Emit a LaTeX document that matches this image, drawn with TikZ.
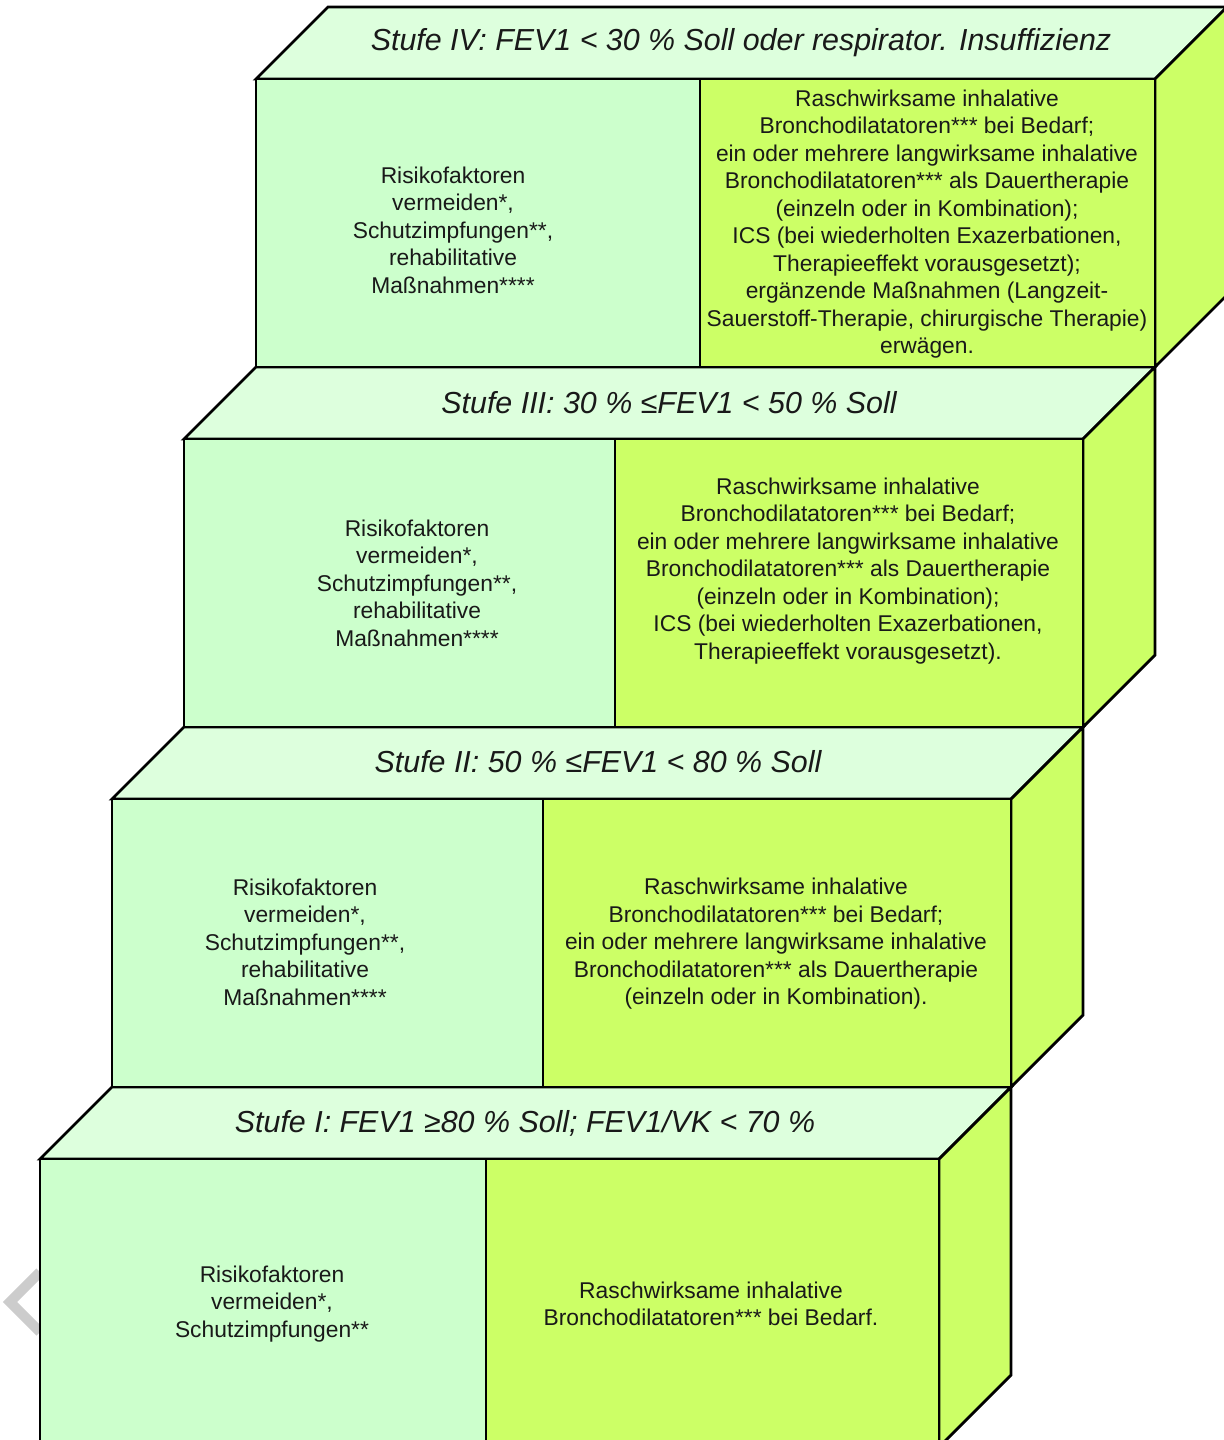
\documentclass[tikz,border=0pt]{standalone}
\usepackage{fontspec}
\setmainfont{Liberation Sans}
\definecolor{mfront}{HTML}{CCFFCC}
\definecolor{mtop}{HTML}{DDFFDD}
\definecolor{mlime}{HTML}{CCFF66}

\begin{document}
\begin{tikzpicture}[x=0.5pt, y=-0.5pt,
    face/.style={draw=black, line width=1.4pt, line join=miter},
    txt/.style={align=center, text=black!90, font=\fontsize{11.4}{13.75}\selectfont},
    head/.style={text=black!90, font=\fontsize{15.2}{18}\selectfont\itshape}]
      \useasboundingbox (0,0) rectangle (1224,1440);

      \draw [gray!40, line width=5pt] (40,1272) -- (10,1302) -- (40,1332);

      % Stufe I
      \draw [face, fill=mtop] (40,1159) -- (112,1087) -- (1011,1087) -- (939,1159) -- cycle;
      \draw [face, fill=mlime] (939,1159) -- (1011,1087) -- (1011,1375) -- (939,1447) -- cycle;
      \draw [face, fill=mfront] (40,1159) rectangle (486,1447);
      \draw [face, fill=mlime] (486,1159) rectangle (939,1447);
      \node [head] (t1) at (525,1123) {Stufe I: FEV1 ≥80 \% Soll; FEV1/VK < 70 \%};
      \node [txt] (l1) at (272,1304) {Risikofaktoren\\vermeiden*,\\Schutzimpfungen**};
      \node [txt] (r1) at (711,1304) {Raschwirksame inhalative\\Bronchodilatatoren*** bei Bedarf.};

      % Stufe II
      \draw [face, fill=mtop] (112,799) -- (184,727) -- (1083,727) -- (1011,799) -- cycle;
      \draw [face, fill=mlime] (1011,799) -- (1083,727) -- (1083,1015) -- (1011,1087) -- cycle;
      \draw [face, fill=mfront] (112,799) rectangle (543,1087);
      \draw [face, fill=mlime] (543,799) rectangle (1011,1087);
      \node [head] (t2) at (598,762) {Stufe II: 50 \% ≤FEV1 < 80 \% Soll};
      \node [txt] (l2) at (305,942) {Risikofaktoren\\vermeiden*,\\Schutzimpfungen**,\\rehabilitative\\Maßnahmen****};
      \node [txt] (r2) at (776,944) {Raschwirksame inhalative\\Bronchodilatatoren*** bei Bedarf;\\ein oder mehrere langwirksame inhalative\\Bronchodilatatoren*** als Dauertherapie\\(einzeln oder in Kombination).};

      % Stufe III
      \draw [face, fill=mtop] (184,439) -- (256,367) -- (1155,367) -- (1083,439) -- cycle;
      \draw [face, fill=mlime] (1083,439) -- (1155,367) -- (1155,655) -- (1083,727) -- cycle;
      \draw [face, fill=mfront] (184,439) rectangle (615,727);
      \draw [face, fill=mlime] (615,439) rectangle (1083,727);
      \node [head] (t3) at (669,403) {Stufe III: 30 \% ≤FEV1 < 50 \% Soll};
      \node [txt] (l3) at (417,583) {Risikofaktoren\\vermeiden*,\\Schutzimpfungen**,\\rehabilitative\\Maßnahmen****};
      \node [txt] (r3) at (848,571) {Raschwirksame inhalative\\Bronchodilatatoren*** bei Bedarf;\\ein oder mehrere langwirksame inhalative\\Bronchodilatatoren*** als Dauertherapie\\(einzeln oder in Kombination);\\ICS (bei wiederholten Exazerbationen,\\Therapieeffekt vorausgesetzt).};

      % Stufe IV
      \draw [face, fill=mtop] (256,79) -- (328,7) -- (1227,7) -- (1155,79) -- cycle;
      \draw [face, fill=mlime] (1155,79) -- (1227,7) -- (1227,295) -- (1155,367) -- cycle;
      \draw [face, fill=mfront] (256,79) rectangle (700,367);
      \draw [face, fill=mlime] (700,79) rectangle (1155,367);
      \node [head] (t4) at (741,43) {Stufe IV: FEV1 < 30 \% Soll oder respirator. Insuffizienz};
      \node [txt] (l4) at (453,230) {Risikofaktoren\\vermeiden*,\\Schutzimpfungen**,\\rehabilitative\\Maßnahmen****};
      \node [txt] (r4) at (927,224) {Raschwirksame inhalative\\Bronchodilatatoren*** bei Bedarf;\\ein oder mehrere langwirksame inhalative\\Bronchodilatatoren*** als Dauertherapie\\(einzeln oder in Kombination);\\ICS (bei wiederholten Exazerbationen,\\Therapieeffekt vorausgesetzt);\\ergänzende Maßnahmen (Langzeit-\\Sauerstoff-Therapie, chirurgische Therapie)\\erwägen.};
    \end{tikzpicture}
\end{document}
